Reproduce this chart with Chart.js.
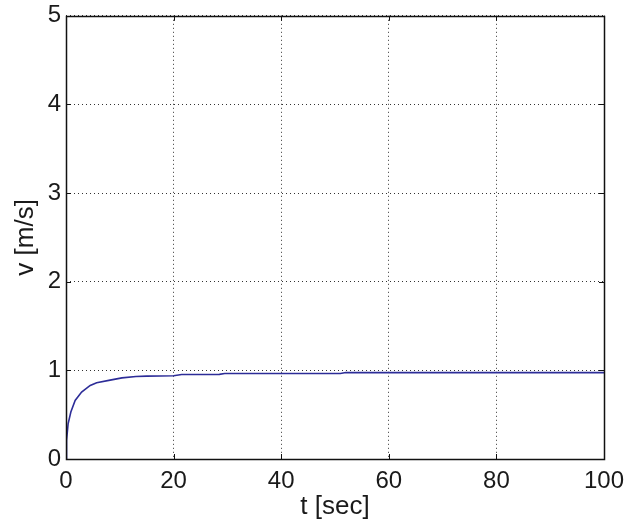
<!DOCTYPE html>
<html>
<head>
<meta charset="utf-8">
<script src="https://cdn.jsdelivr.net/npm/chart.js@4/dist/chart.umd.min.js"></script>
<style>
html,body{margin:0;padding:0;background:#fff;}
#wrap{width:641px;height:524px;position:relative;}
</style>
</head>
<body>
<div id="wrap"><canvas id="c" width="641" height="524"></canvas></div>
<script>
// Data
const timeSec = [0, 0.1, 0.4, 0.9, 1.7, 2.9, 4.5, 5.7, 8.2, 10.4, 13, 15, 20, 21.5, 28.5, 29.5, 51, 52, 100];
const velocity = [0, 0.21, 0.40, 0.53, 0.66, 0.755, 0.83, 0.86, 0.89, 0.915, 0.93, 0.935, 0.94, 0.953, 0.955, 0.965, 0.965, 0.975, 0.975];
const xTicks = [0, 20, 40, 60, 80, 100];
const yTicks = [0, 1, 2, 3, 4, 5];
const xTitle = 't [sec]';
const yTitle = 'v [m/s]';

const points = timeSec.map((t, i) => ({x: t, y: velocity[i]}));
const FONT = '"Liberation Sans", Arial, Helvetica, sans-serif';

const frame = {
  id: 'frame',
  afterDraw(chart) {
    const {ctx, chartArea: a, scales} = chart;
    ctx.save();
    ctx.strokeStyle = '#111';
    ctx.lineWidth = 1;
    const L = 5;
    ctx.beginPath();
    xTicks.forEach(v => {
      const px = Math.round(scales.x.getPixelForValue(v)) + 0.5;
      ctx.moveTo(px, a.bottom); ctx.lineTo(px, a.bottom - L);
      ctx.moveTo(px, a.top); ctx.lineTo(px, a.top + L);
    });
    yTicks.forEach(v => {
      const py = Math.round(scales.y.getPixelForValue(v)) + 0.5;
      ctx.moveTo(a.left, py); ctx.lineTo(a.left + L, py);
      ctx.moveTo(a.right, py); ctx.lineTo(a.right - L, py);
    });
    ctx.stroke();
    ctx.lineWidth = 1.5;
    ctx.strokeRect(Math.round(a.left) + 0.5, Math.round(a.top) + 0.5, Math.round(a.right - a.left), Math.round(a.bottom - a.top));
    ctx.restore();
  }
};

new Chart(document.getElementById('c'), {
  type: 'line',
  data: {
    datasets: [{
      data: points,
      borderColor: '#2d2d98',
      borderWidth: 1.6,
      pointRadius: 0,
      tension: 0,
      fill: false
    }]
  },
  options: {
    responsive: false,
    animation: false,
    devicePixelRatio: 1,
    layout: {padding: {top: 11, right: 37, left: 0, bottom: 0}},
    plugins: {legend: {display: false}, tooltip: {enabled: false}},
    scales: {
      x: {
        type: 'linear',
        min: 0, max: 100,
        afterBuildTicks: s => { s.ticks = xTicks.map(v => ({value: v})); },
        afterFit: s => { s.height = 65; },
        grid: {color: '#333', lineWidth: 1, drawTicks: false},
        border: {display: false, dash: [1, 3]},
        ticks: {color: '#1a1a1a', font: {family: FONT, size: 24, lineHeight: 1}, padding: 10, maxRotation: 0},
        title: {display: true, text: xTitle, color: '#1a1a1a', font: {family: FONT, size: 26, lineHeight: 1.2}, padding: {top: 0, bottom: 2}}
      },
      y: {
        type: 'linear',
        min: 0, max: 5,
        afterBuildTicks: s => { s.ticks = yTicks.map(v => ({value: v})); },
        afterFit: s => { s.width = 66; },
        grid: {color: '#333', lineWidth: 1, drawTicks: false},
        border: {display: false, dash: [1, 3]},
        ticks: {color: '#1a1a1a', font: {family: FONT, size: 24, lineHeight: 0.9}, padding: 5},
        title: {display: true, text: yTitle, color: '#1a1a1a', font: {family: FONT, size: 26, lineHeight: 1.2}, padding: {top: 10, bottom: 0}}
      }
    }
  },
  plugins: [frame]
});
</script>
</body>
</html>
